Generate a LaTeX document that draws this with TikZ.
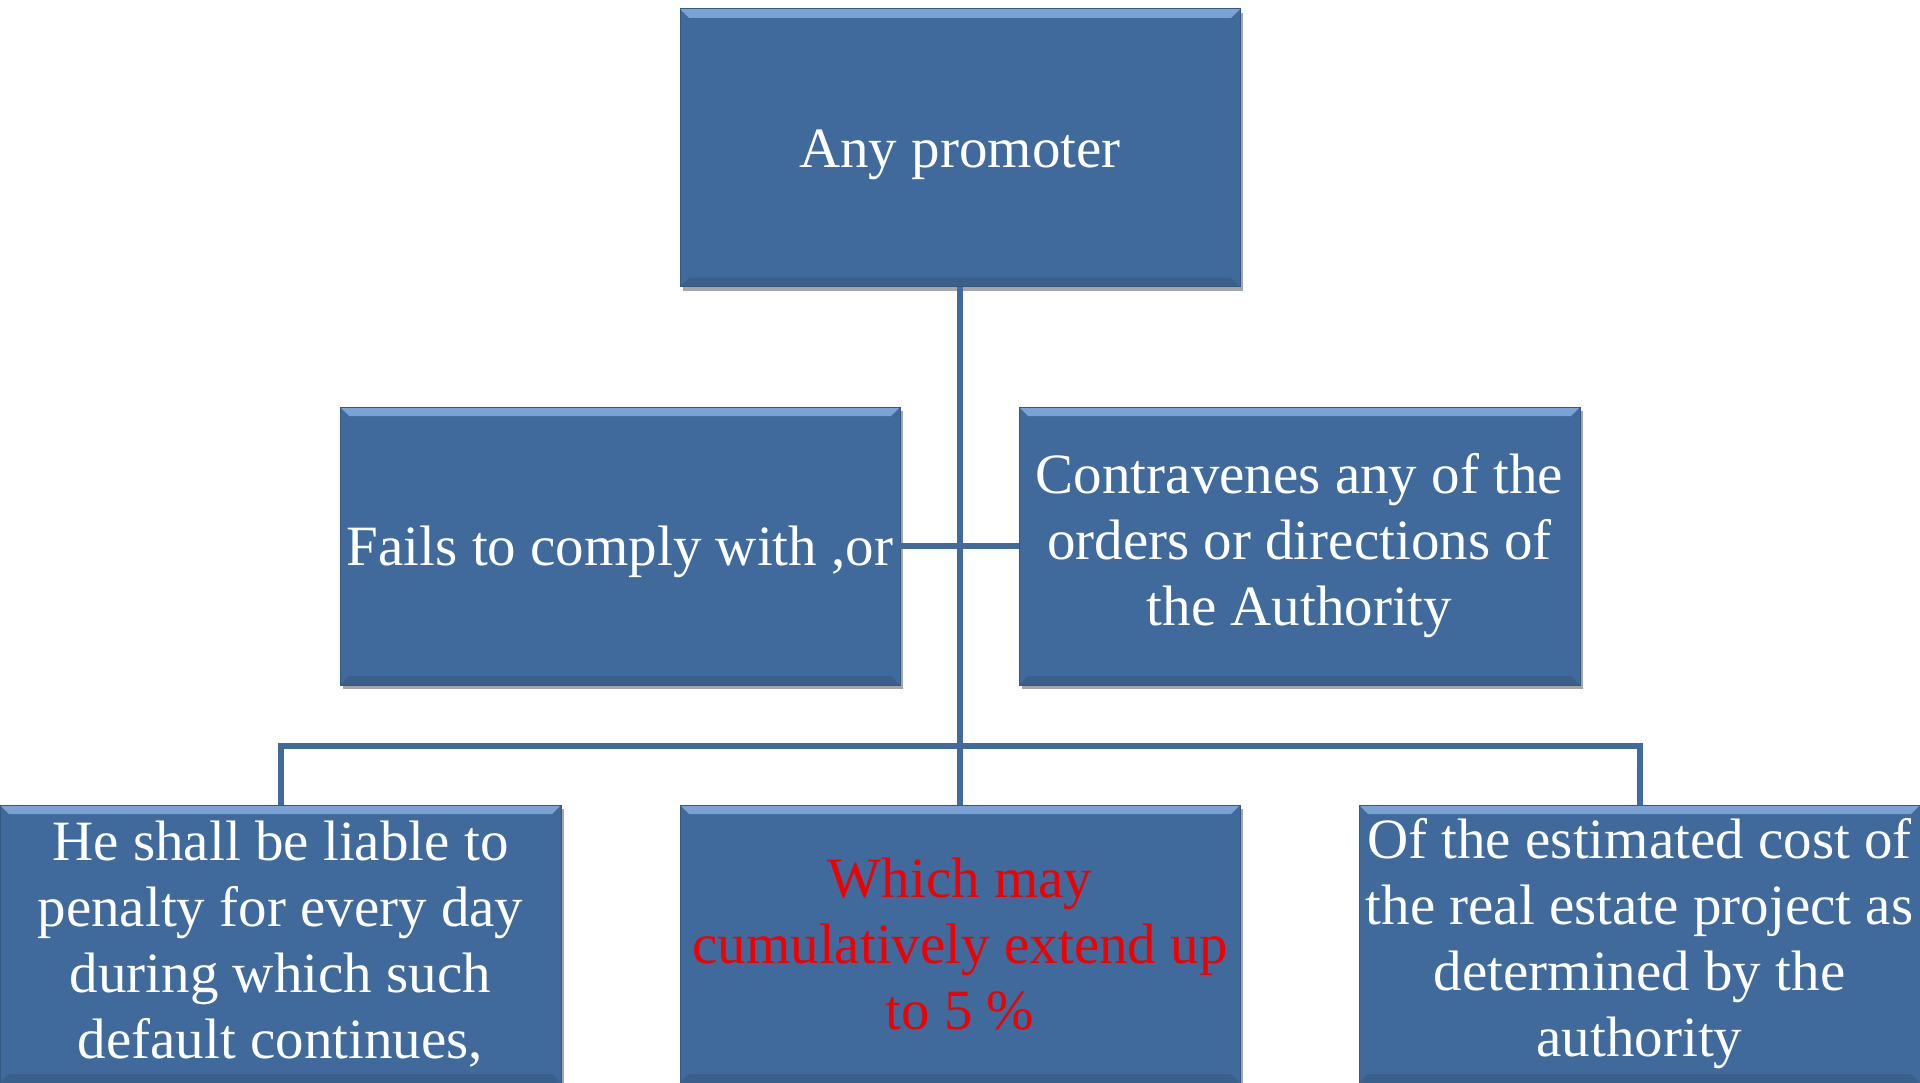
\documentclass[tikz,border=0pt]{standalone}
\usepackage{fontspec}
\setmainfont{Liberation Serif}
\usetikzlibrary{shadows}
\definecolor{boxblue}{HTML}{3F6A9B}
\definecolor{boxedge}{HTML}{35587F}
\definecolor{boxlight}{HTML}{7BA3D6}
\definecolor{redtext}{HTML}{F00000}
\tikzset{
  orgbox/.style={rectangle, fill=boxblue, draw=boxedge, line width=1pt,
    minimum width=560pt, minimum height=278pt, inner sep=0pt, outer sep=0pt,
    text=white, align=center,
    font=\fontsize{57}{66}\selectfont,
    execute at begin node={\rule{0pt}{52pt}},
    drop shadow={shadow xshift=3pt, shadow yshift=-4pt, opacity=0.35, fill=black},
    path picture={
      \fill[top color=boxlight, bottom color=boxblue]
        (path picture bounding box.north west) --
        (path picture bounding box.north east) --
        ([xshift=-9pt,yshift=-9pt]path picture bounding box.north east) --
        ([xshift=9pt,yshift=-9pt]path picture bounding box.north west) -- cycle;
      \fill[boxedge, opacity=0.6]
        (path picture bounding box.south west) --
        (path picture bounding box.south east) --
        ([xshift=-9pt,yshift=9pt]path picture bounding box.south east) --
        ([xshift=9pt,yshift=9pt]path picture bounding box.south west) -- cycle;
    }},
  conn/.style={draw=boxblue, line width=6pt}
}
\begin{document}
\begin{tikzpicture}[x=1pt, y=-1pt]
\useasboundingbox (0,0) rectangle (1920,1083);
\fill[white] (0,0) rectangle (1920,1083);
\node[orgbox] (top) at (960,148) {Any promoter};
\node[orgbox] (ml) at (620,546) {Fails to comply with ,or};
\node[orgbox, minimum width=561pt] (mr) at (1299.5,546) {Contravenes any of the\\orders or directions of\\the Authority};
\node[orgbox, minimum width=561pt] (bl) at (280.5,944) {He shall be liable to\\penalty for every day\\during which such\\default continues,};
\node[orgbox, text=redtext] (bc) at (960,944) {Which may\\cumulatively extend up\\to 5 \%};
\node[orgbox, minimum width=561pt] (br) at (1639.5,944) {Of the estimated cost of\\the real estate project as\\determined by the\\authority};
\draw[conn] (top.south) -- (bc.north);
\draw[conn] (ml.east) -- (mr.west);
\draw[conn] (bl.north) -- ++(0,-59) -| (br.north);
\end{tikzpicture}
\end{document}
